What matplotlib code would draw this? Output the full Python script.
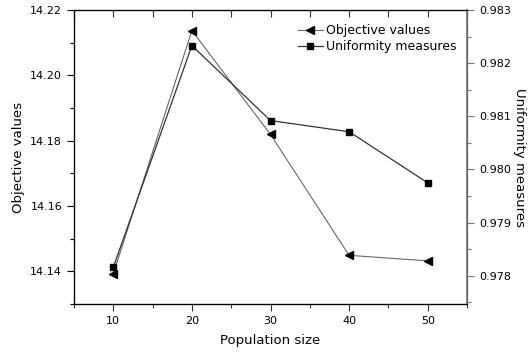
import matplotlib
matplotlib.use("Agg")
import matplotlib.pyplot as plt
from matplotlib.ticker import MultipleLocator, FormatStrFormatter

pop_size = [10, 20, 30, 40, 50]
objective = [14.1393, 14.2137, 14.1819, 14.1449, 14.1432]
uniformity = [0.97816, 0.98233, 0.98092, 0.98071, 0.97975]

plt.rcParams['font.family'] = ['DejaVu Sans']
fig = plt.figure(figsize=(5.29, 3.54), dpi=100)
ax = fig.add_axes([74/529, 1-304/354, (467-74)/529, (304-10)/354])
ax2 = ax.twinx()

l1, = ax.plot(pop_size, objective, color='#666666', lw=0.8, marker='<', ms=6,
              mfc='black', mec='black', label='Objective values')
l2, = ax2.plot(pop_size, uniformity, color='#333333', lw=0.9, marker='s', ms=4.5,
               mfc='black', mec='black', label='Uniformity measures')

ax.set_xlim(5, 55)
ax.set_ylim(14.13, 14.22)
ax2.set_ylim(0.97747, 0.983)

ax.xaxis.set_major_locator(MultipleLocator(10))
ax.xaxis.set_minor_locator(MultipleLocator(5))
ax.yaxis.set_major_locator(MultipleLocator(0.02))
ax.yaxis.set_minor_locator(MultipleLocator(0.01))
ax2.yaxis.set_major_locator(MultipleLocator(0.001))
ax2.yaxis.set_minor_locator(MultipleLocator(0.0005))
ax.yaxis.set_major_formatter(FormatStrFormatter('%.2f'))
ax2.yaxis.set_major_formatter(FormatStrFormatter('%.3f'))

ax.tick_params(axis='x', which='both', direction='out', top=True, labelsize=8, width=0.8, color='#333333')
ax.tick_params(axis='x', which='major', length=5)
ax.tick_params(axis='x', which='minor', length=3)
ax.tick_params(axis='y', which='major', direction='out', length=5, labelsize=8, width=0.8)
ax.tick_params(axis='y', which='minor', direction='out', length=3, width=0.8)
ax2.tick_params(axis='y', which='major', direction='out', length=5, labelsize=8, width=0.8, color='#777777')
ax2.tick_params(axis='y', which='minor', direction='out', length=3, width=0.8, color='#777777')

# top ticks point inward
for t in ax.xaxis.get_major_ticks() + ax.xaxis.get_minor_ticks():
    t.tick2line.set_marker(3)
    t.tick2line.set_markersize(5)

ax2.spines['right'].set_color('#777777')
for s in ['left', 'top', 'bottom']:
    ax.spines[s].set_linewidth(0.9)
ax2.spines['right'].set_linewidth(1.2)

ax.set_xlabel('Population size', fontsize=9.5, labelpad=6)
ax.set_ylabel('Objective values', fontsize=9.5, labelpad=4)
ax2.set_ylabel('Uniformity measures', fontsize=9.5, rotation=270, labelpad=11)

ax.legend([l1, l2], ['Objective values', 'Uniformity measures'], loc='upper right',
          frameon=False, fontsize=9, handlelength=2.0, handletextpad=0.3,
          borderaxespad=0.4, labelspacing=0.2, bbox_to_anchor=(1.0, 0.985))

fig.savefig('out.png', dpi=100)
